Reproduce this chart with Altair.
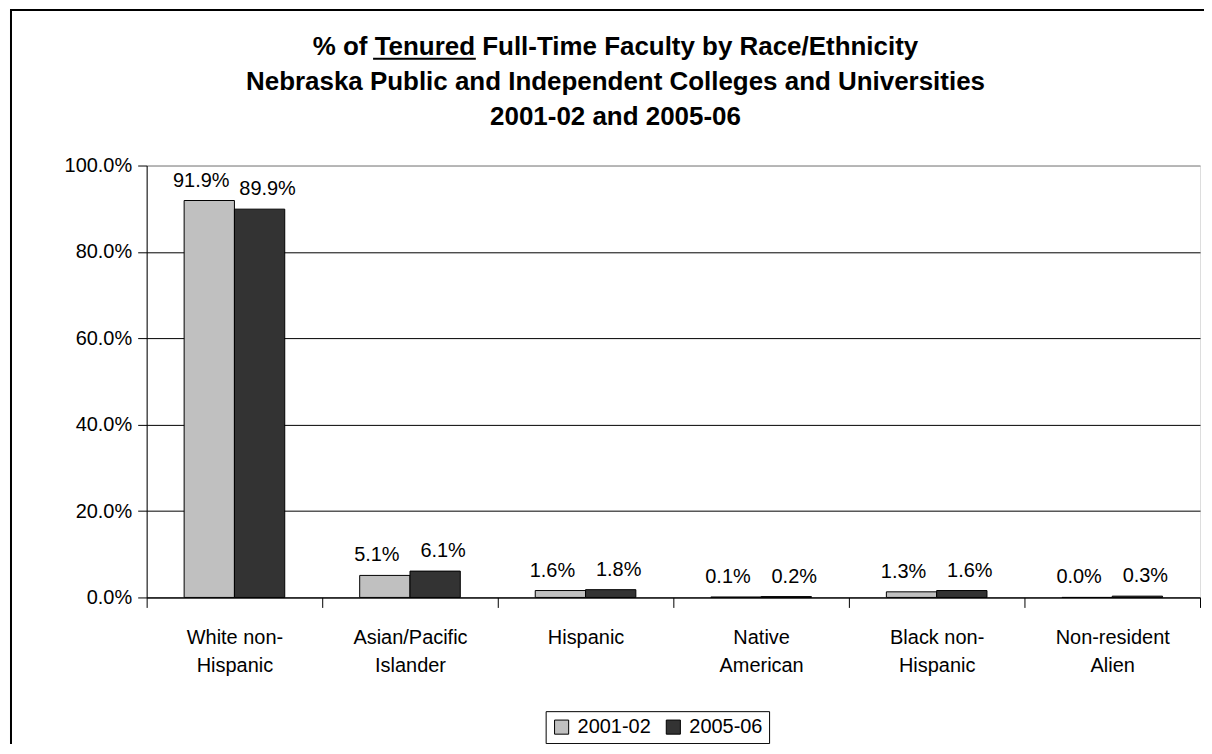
import altair as alt
import pandas as pd

categories = ["White non-\nHispanic", "Asian/Pacific\nIslander", "Hispanic",
              "Native\nAmerican", "Black non-\nHispanic", "Non-resident\nAlien"]
series = ["2001-02", "2005-06"]
values_2001 = [91.9, 5.1, 1.6, 0.1, 1.3, 0.0]
values_2005 = [89.9, 6.1, 1.8, 0.2, 1.6, 0.3]
colors = ["#C0C0C0", "#333333"]
y_ticks = [0, 0.2, 0.4, 0.6, 0.8, 1.0]
title_lines = ["% of Tenured Full-Time Faculty by Race/Ethnicity",
               "Nebraska Public and Independent Colleges and Universities",
               "2001-02 and 2005-06"]

rows = []
for c, a, b in zip(categories, values_2001, values_2005):
    rows.append({"cat": c, "year": series[0], "pct": a / 100})
    rows.append({"cat": c, "year": series[1], "pct": b / 100})
df = pd.DataFrame(rows)

FONT = "Liberation Sans"
FS = 20
W, H = 1056, 433

base = alt.Chart(df).encode(
    x=alt.X("cat:N", sort=categories,
            scale=alt.Scale(paddingInner=0, paddingOuter=0),
            axis=alt.Axis(title=None, labelAngle=0, labelExpr="split(datum.label, '\\n')",
                          tickBand="extent", tickSize=10, tickColor="black",
                          domainColor="black", labelFontSize=FS, labelFont=FONT,
                          labelColor="black", labelLineHeight=28, labelPadding=20,
                          labelBaseline="top", grid=False)),
    xOffset=alt.XOffset("year:N", sort=series,
                        scale=alt.Scale(paddingInner=0, paddingOuter=0.745)),
)

bars = base.mark_bar(stroke="black", strokeWidth=1).encode(
    y=alt.Y("pct:Q", scale=alt.Scale(domain=[0, 1]),
            axis=alt.Axis(title=None, format=".1%", values=y_ticks, grid=True,
                          gridColor={"condition": {"test": "datum.value >= 1", "value": "#808080"},
                                     "value": "black"},
                          gridWidth=1, domainColor="black", tickColor="black", tickSize=9,
                          labelFontSize=FS, labelFont=FONT, labelColor="black",
                          labelPadding=6)),
    color=alt.Color("year:N", sort=series,
                    scale=alt.Scale(domain=series, range=colors),
                    legend=alt.Legend(title=None, orient="none", legendX=400, legendY=547,
                                      direction="horizontal", strokeColor="black",
                                      padding=6, symbolType="square", symbolSize=200,
                                      symbolStrokeColor="black", symbolStrokeWidth=1,
                                      labelFontSize=FS, labelFont=FONT, labelColor="black",
                                      columnPadding=12, labelOffset=6)),
)

labels_a = base.mark_text(baseline="bottom", dy=-10, dx=-8, fontSize=FS, font=FONT,
                          color="black").encode(
    y=alt.Y("pct:Q"),
    text=alt.Text("pct:Q", format=".1%"),
).transform_filter(alt.datum.year == series[0])

labels_b = base.mark_text(baseline="bottom", dy=-10, dx=8, fontSize=FS, font=FONT,
                          color="black").encode(
    y=alt.Y("pct:Q"),
    text=alt.Text("pct:Q", format=".1%"),
).transform_filter(alt.datum.year == series[1])

one = pd.DataFrame({"k": [0]})

frame = alt.Chart(one).mark_rect(
    fill=None, stroke="black", strokeWidth=2
).encode(x=alt.value(-136), x2=alt.value(1300), y=alt.value(-156), y2=alt.value(800))

TITLE_CX = 470  # centre of title, plot coords
title = alt.Chart(one).mark_text(
    text="\n".join(title_lines), lineBreak="\n", lineHeight=35,
    fontSize=26, fontWeight="bold", font=FONT, color="black",
    align="center", baseline="alphabetic"
).encode(x=alt.value(TITLE_CX), y=alt.value(-111))

# underline beneath the word "Tenured" (first title line)
underline = alt.Chart(one).mark_rule(color="black", strokeWidth=2).encode(
    x=alt.value(TITLE_CX - 305 + 62), x2=alt.value(TITLE_CX - 305 + 165),
    y=alt.value(-107))

chart = alt.layer(frame, title, underline, bars, labels_a, labels_b).properties(
    width=W, height=H,
    autosize=alt.AutoSizeParams(type="none"),
    padding={"left": 139, "top": 157, "right": 4, "bottom": 146},
).configure_view(stroke=None).configure(background="white")

chart.save("out.html", embed_options={"renderer": "svg", "actions": False})
